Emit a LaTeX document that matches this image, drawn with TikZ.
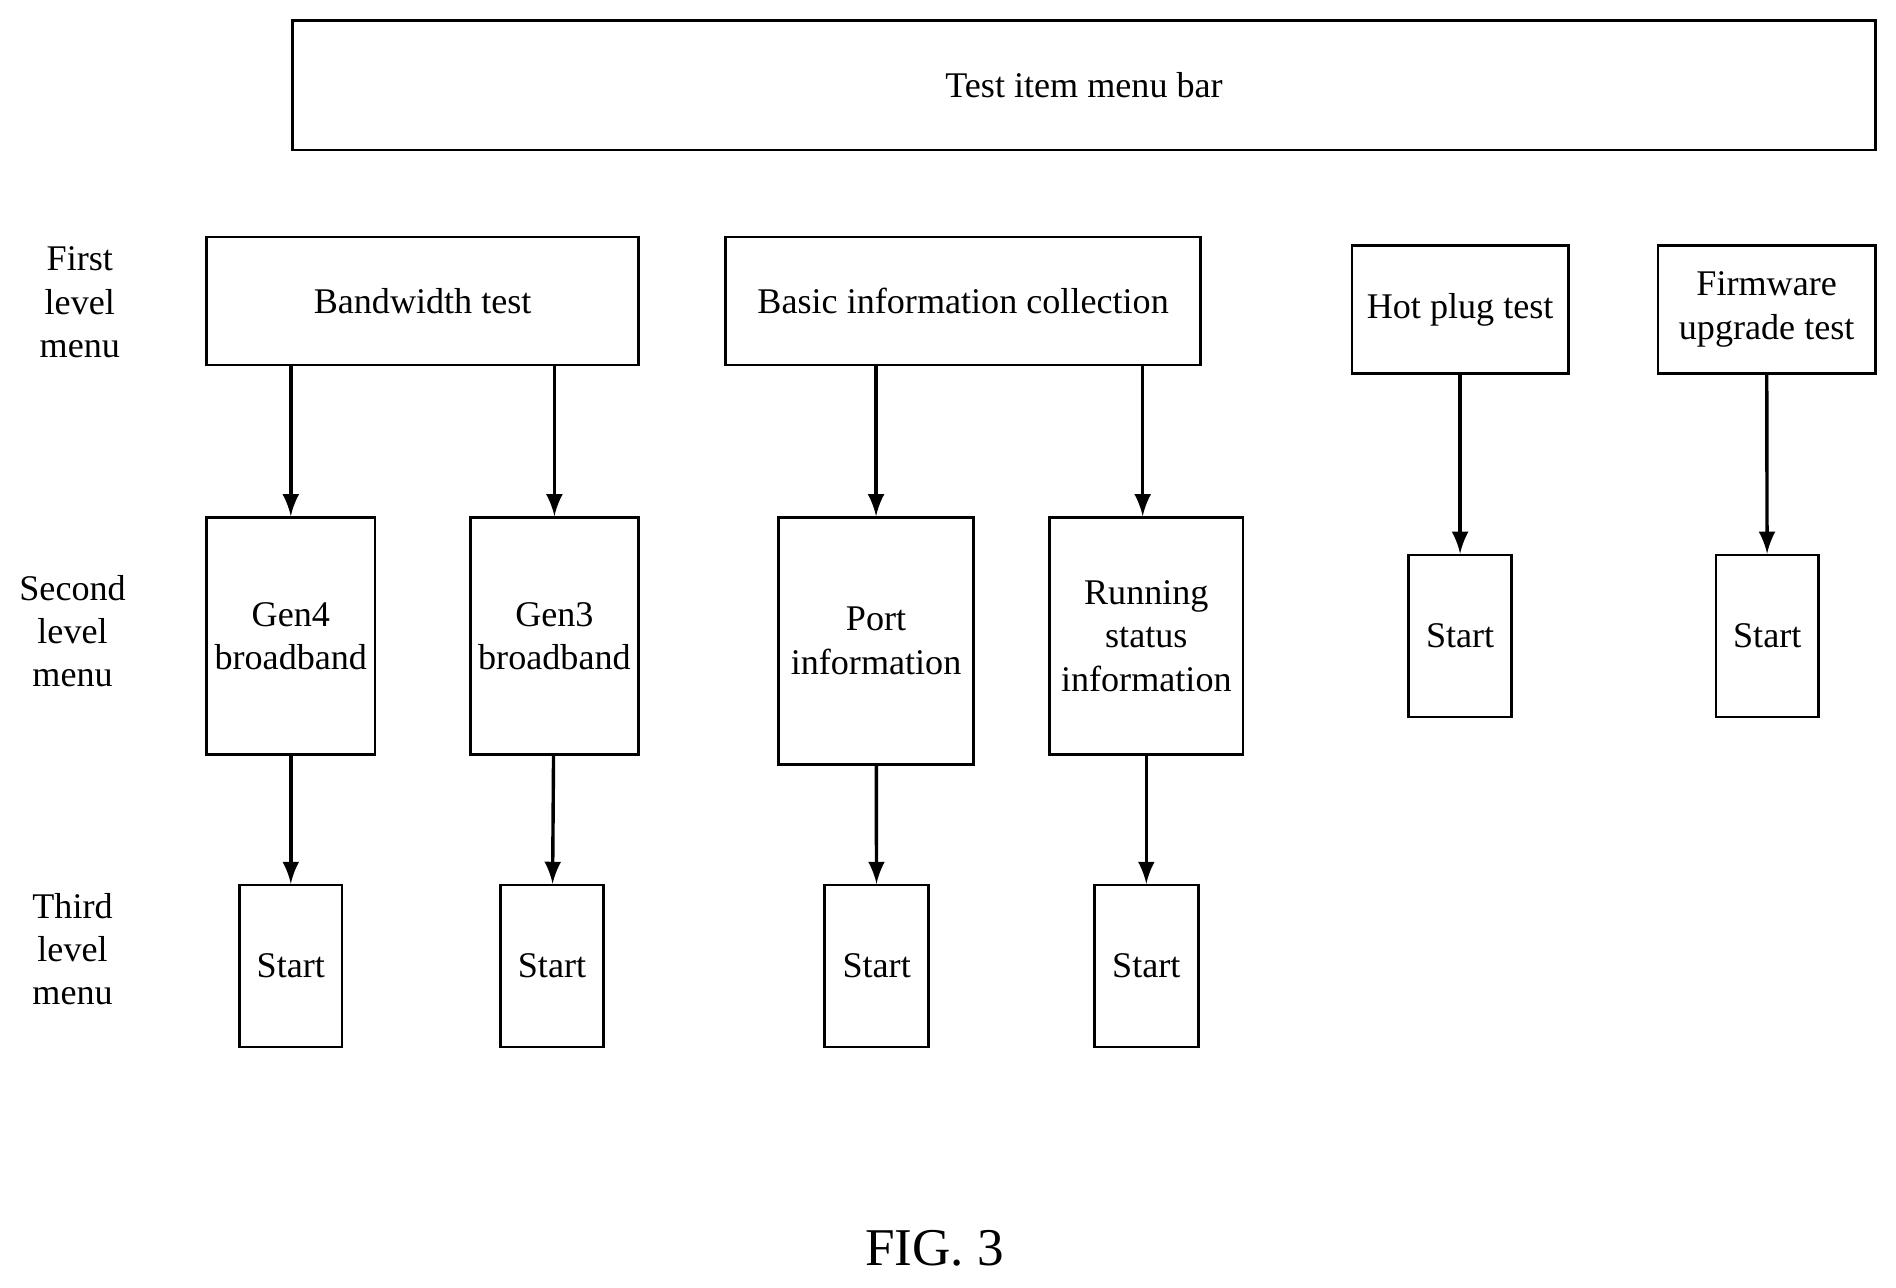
\documentclass[tikz,border=0pt]{standalone}
\usepackage{fontspec}
\setmainfont{Liberation Serif}
\usetikzlibrary{positioning}

\begin{document}
\begin{tikzpicture}[x=1cm, y=-1cm, every node/.style={font=\fontsize{8.5}{10.2}\selectfont},
    menu/.style={draw, semithick, inner sep=0pt, align=center},
    arr/.style={->, >=latex, thick}]
    \useasboundingbox (0,0) rectangle (15.68,10.645);

    % Menu bar
    \node[menu, minimum width=13.09cm, minimum height=1.07cm] (bar) at (8.965,0.705) {Test item menu bar};

    % Level labels
    \node[align=center] (lvl1) at (0.66,2.50) {First\\level\\menu};
    \node[align=center] (lvl2) at (0.60,5.22) {Second\\level\\menu};
    \node[align=center] (lvl3) at (0.60,7.85) {Third\\level\\menu};

    % First level menu
    \node[menu, minimum width=3.57cm, minimum height=1.06cm] (bw) at (3.495,2.49) {Bandwidth test};
    \node[menu, minimum width=3.93cm, minimum height=1.06cm] (info) at (7.965,2.49) {Basic information collection};
    \node[menu, minimum width=1.79cm, minimum height=1.06cm] (hot) at (12.075,2.56) {Hot plug test};
    \node[menu, minimum width=1.80cm, minimum height=1.06cm] (fw) at (14.61,2.56) {Firmware\\upgrade test};

    % Second level menu
    \node[menu, minimum width=1.39cm, minimum height=1.96cm] (gen4) at (2.405,5.26) {Gen4\\broadband};
    \node[menu, minimum width=1.39cm, minimum height=1.96cm] (gen3) at (4.585,5.26) {Gen3\\broadband};
    \node[menu, minimum width=1.61cm, minimum height=2.04cm] (port) at (7.245,5.30) {Port\\information};
    \node[menu, minimum width=1.60cm, minimum height=1.96cm] (run) at (9.48,5.26) {Running\\status\\information};
    \node[menu, minimum width=0.85cm, minimum height=1.34cm] (hotS) at (12.075,5.26) {Start};
    \node[menu, minimum width=0.85cm, minimum height=1.34cm] (fwS) at (14.615,5.26) {Start};

    % Third level menu
    \node[menu, minimum width=0.85cm, minimum height=1.34cm] (gen4S) at (2.405,7.99) {Start};
    \node[menu, minimum width=0.85cm, minimum height=1.34cm] (gen3S) at (4.565,7.99) {Start};
    \node[menu, minimum width=0.86cm, minimum height=1.34cm] (portS) at (7.25,7.99) {Start};
    \node[menu, minimum width=0.86cm, minimum height=1.34cm] (runS) at (9.48,7.99) {Start};

    % Arrows
    \draw[arr] (bw.south -| gen4.north) -- (gen4.north);
    \draw[arr] (bw.south -| gen3.north) -- (gen3.north);
    \draw[arr] (info.south -| port.north) -- (port.north);
    \draw[arr] (info.south -| 9.45,0) -- (9.45,0 |- run.north);
    \draw[arr] (hot) -- (hotS);
    \draw[arr] (fw) -- (fwS);
    \draw[arr] (gen4) -- (gen4S);
    \draw[arr] (gen3) -- (gen3S);
    \draw[arr] (port) -- (portS);
    \draw[arr] (run) -- (runS);

    % Caption
    \node[font=\fontsize{12.5}{14}\selectfont] (cap) at (7.73,10.32) {FIG. 3};
\end{tikzpicture}
\end{document}
